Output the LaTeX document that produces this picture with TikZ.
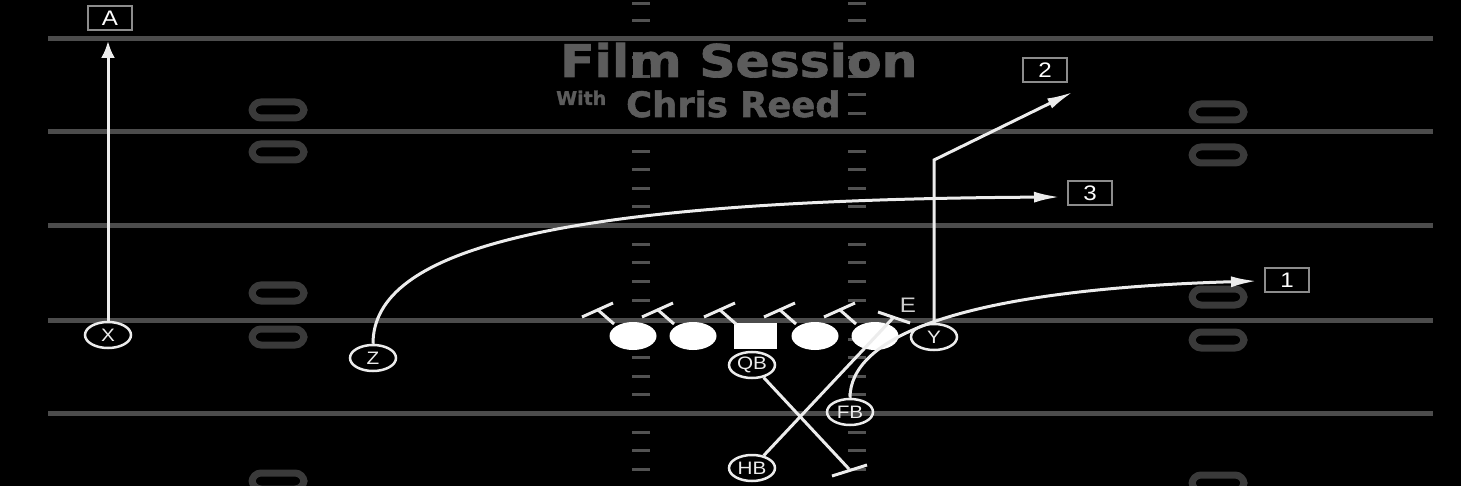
\documentclass[tikz,border=0pt]{standalone}
\usepackage{fontspec}
\usepackage{graphicx}
\setmainfont{Liberation Sans}
\newfontfamily\titlefont[BoldFeatures={FakeBold=1.6}]{DejaVu Sans}
\usetikzlibrary{arrows.meta,shapes.geometric}
\definecolor{yardgray}{RGB}{76,76,76}
\definecolor{hashgray}{RGB}{82,82,82}
\definecolor{zerogray}{RGB}{58,58,58}
\definecolor{titlegray}{RGB}{92,92,92}
\definecolor{routewhite}{RGB}{236,236,236}
\definecolor{taggray}{RGB}{140,140,140}
\definecolor{egray}{RGB}{205,205,205}
\newcommand\blockT[1]{%
  \draw[route] (#1.center) ++(-19,-12) -- ++(-16,-14) coordinate (#1t);
  \draw[route] (#1t) ++(-16,7) -- ++(31,-14);}
\newcommand\plab[1]{\scalebox{1.15}[1]{#1}}
\tikzset{
  yard/.style={draw=yardgray,line width=5pt},
  hash/.style={fill=hashgray},
  zero/.style={draw=zerogray,line width=7pt,rounded corners=9pt},
  route/.style={draw=routewhite,line width=3pt},
  tipL/.style={-{Latex[length=26pt,width=11pt]}},
  tipA/.style={-{Latex[length=17pt,width=14pt]}},
  player/.style={ellipse,draw=routewhite,line width=2.5pt,minimum width=46pt,minimum height=26pt,inner sep=0pt,text=routewhite,font=\fontsize{18}{18}\selectfont},
  lineman/.style={ellipse,fill=white,minimum width=47pt,minimum height=28pt,inner sep=0pt},
  center/.style={rectangle,fill=white,minimum width=43pt,minimum height=26pt,inner sep=0pt},
  tag/.style={rectangle,draw=taggray,line width=2pt,minimum width=44pt,minimum height=24pt,inner sep=0pt,text=white,font=\fontsize{21}{21}\selectfont},
  titletext/.style={text=titlegray,inner sep=0pt,anchor=base west},
}
\begin{document}
\begin{tikzpicture}[x=1pt,y=-1pt]
\fill[black] (0,0) rectangle (1461,486);
\useasboundingbox (0,0) rectangle (1461,486);
% yard lines
\foreach \y in {39,132,226,320,413} \draw[yard] (48,\y) -- (1433,\y);
% hash marks
\foreach \x in {641,857}
  \foreach \y in {4,21,58,77,95,114,152,170,189,207,245,263,282,300,339,357,376,394,432,450,469,487}
    \fill[hash] (\x-9,\y-1.5) rectangle (\x+9,\y+1.5);
% yard numbers
\foreach \x/\y in {278/110,278/152,278/293,278/337,278/481,1218/112,1218/155,1218/297,1218/340,1218/483}
  \draw[zero] (\x-26,\y-8) rectangle (\x+26,\y+8);
% title
\node[titletext,xscale=1.12] (T1) at (560,77) {\titlefont\bfseries\fontsize{45}{45}\selectfont Film Session};
\node[titletext] (T2) at (556,105) {\titlefont\bfseries\fontsize{19}{19}\selectfont With};
\node[titletext,xscale=1.01] (T3) at (626,117) {\titlefont\bfseries\fontsize{35}{35}\selectfont Chris Reed};
% players
\node[player] (X) at (108,335) {\plab{X}};
\node[player] (Z) at (373,358) {\plab{Z}};
\node[player] (Y) at (934,337) {\plab{Y}};
\node[player] (QB) at (752,365) {\plab{QB}};
\node[player] (FB) at (850,412) {\plab{FB}};
\node[player] (HB) at (752,468) {\plab{HB}};
\node[lineman] (L1) at (633,336) {};
\node[lineman] (L2) at (693,336) {};
\node[center] (C) at (755,336) {};
\node[lineman] (L4) at (815,336) {};
\node[lineman] (L5) at (875,336) {};
\node[text=egray,inner sep=0pt,font=\fontsize{21}{21}\selectfont] (E) at (908,305) {\plab{E}};
% tags
\node[tag] (A) at (110,18) {\plab{A}};
\node[tag] (B2) at (1045,70) {\plab{2}};
\node[tag] (B3) at (1090,193) {\plab{3}};
\node[tag] (B1) at (1287,280) {\plab{1}};
% route points
\coordinate (tA) at (108,41);
\coordinate (turn2) at (934,160);
\coordinate (t2) at (1073,92);
\coordinate (t3) at (1060,197);
\coordinate (t1) at (1257,281);
\coordinate (qbT) at (849,469);
\coordinate (hbT) at (893,318);
% blocks
\blockT{L1}\blockT{L2}\blockT{C}\blockT{L4}\blockT{L5}
% routes
\draw[route,tipA] (X) -- (tA);
\draw[route,tipL] (Y) -- (turn2) -- (t2);
\draw[route,tipL] (Z.north) .. controls (373,250) and (550,200) .. (t3);
\draw[route,tipL] (FB.north) .. controls (850,340) and (950,290) .. (t1);
\draw[route] (QB) -- (qbT);
\draw[route] (qbT) ++(-17,7) -- ++(35,-11);
\draw[route] (HB) -- (hbT);
\draw[route] (hbT) ++(-15,-6) -- ++(32,11);
\end{tikzpicture}
\end{document}
